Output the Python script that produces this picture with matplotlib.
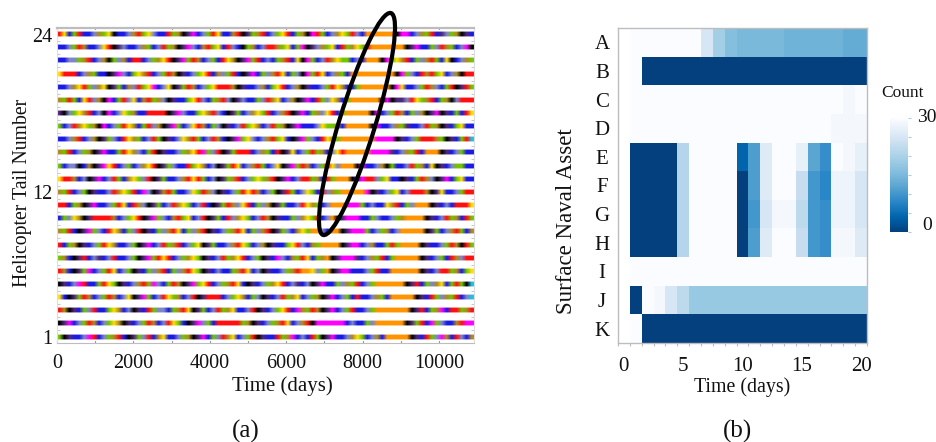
import numpy as np
import matplotlib
matplotlib.use("Agg")
import matplotlib.pyplot as plt
from matplotlib.colors import LinearSegmentedColormap, to_rgb
from matplotlib.patches import Ellipse

plt.rcParams['font.family'] = ['Liberation Serif', 'DejaVu Serif']

# ---------- panel (a): helicopter state per time block, top row = tail 24 ----------
block_days = 130
palette = dict(r='#ff1010', b='#1a1ae6', k='#000000', o='#ff9400', g='#74c400', y='#ffe000',
               m='#ff00ff', s='#7d86c8', n='#b08a20', p='#50287a', c='#20c0e0')
tail_rows = [
 "rybgrbbsng ykbbsnrgys bbrgnkpmbs grybbnrkpg nrbsgyrbgn kmrgbsnygr sb oooooo km mbsngrbpsg nkpb",
 "bbsgrnbbsy rkpsbbsngb srgnkpmsbn rgybrsbkgn bsrrngybgm kpsngybrgn ygrooooooo kpmbbgsrng bsmk",
 "bbssgnrbsn kgsnbrrbsg nyrkpmgrnb sgbrynkpmg rbsbgnrbyk mgbsrnyggb sboookmgyn rbgsnrgbyk bsng",
 "yrrrbsngbb kpmsbgynrb sgrnkpbsgy rbnsgrbkpm bgsnrybgsk mgrybsngbo oooooooo km gsbrnrgybs nkrr",
 "bbsnyrgsny kpgbnsrgym bsykpgrnbs gyrrrnkpbb snbgyrbsnk pbbsgrynbb g oooooo kmy bbsgrnsbgr kprg",
 "ngrgbyrsnk mbgrsybnrg nskpbbgyrs bgnrskpsbb gsrnybsnkp mbrgsynbgo oooookmkpp srygnrbgnk srrr",
 "pksgynrbsk mbsygnbbrr rrkpmsbbgy nrsbkpgbsn ygrbsnrkpm bgnsyrbgoo oookmbsgrn bgsnkpmkpb gbry",
 "gbsrnygnkm bsgrynbgrs nkpmgbsyrn bgskpbsrgy nbsrgnkpmb bbsyggnboo oookmbbsng pbbsrgnkpb gybb",
 "bbsnrbsnkp gsbryngbsr gkpbsynrgb srnbkpmgys bsnrgybkpm gsbryngooo oooommmmkp bsgrrrngkp bgrc",
 "ngrbsgnkpm bbgrynsbgr kpbbsgnyrm gsrkpgrrrb sngbrkpybs grgnbsyroo ooommmmpbs ngrboookpb sgbb",
 "gbsskbnkpm yrbsgbsnyr kpgsbbrgyn bskpgrybsn rgbsykpmgr nbsgrysooo kmbbsnkgbb srgnbykpbs ggbb",
 "yrrnbskpmb srgbnygsrk pgbbsnryrg bskpgnrbsg ygnrkpmbsr rgnbrgoook pmrrsgybbk pbgrnskpmb gybb",
 "ngrbsgkpbb srnygrbmsk pnrgbbsygr nskpbsgryr nbsgkprgbs ygbrsngooo oomkpbsgyb srrrnkpybb sgrr",
 "rrbgnkpmbb sgrybrnskp gbsrnygbsr bkpgrnsyrb gsnkpgbbsr yngbsooomm mgbsbbynrb gsoookpbsb rrry",
 "bgsynkprrr rnbsgyrkpm gsbnrgybsr kpgbrsnygb srnkpbbgsn ygrbsokpmm mbbgsbbsgn ooookpbsrg nbrg",
 "ngrbkpmgsb rynbgsrkpb gsnrybgsnr kpbsgnrybg snrkpgsbny goosbookpm mmgbsgnbso ooookpgbsn rgbn",
 "rbgnkpbsgr ynbbsgkpmb srgnrbsgyk pgbbsnrygb snkpbbgyrs bng oooo kpm mbsnbbgrgo oookpbbsgr nkrg",
 "gnbkprbspb srbbsgkpmg ryrbsgnygk pbsrgnyrbs gkpbmsbngr ybgnokpmmm pbsngrbgoo oookpbsgbr nsrr",
 "rnbkpgmbsg rybsgkpbgs nrbgsnrygk pbsbbgnryb skpbbsgnro oysgokpmmb bbsgrbbooo oookpbsrrg nbgy",
 "kpbsmrbbgr ygkpbsnrgm sbgrnkpmgy rbsgnrybkp bsgnyrbspb skpmbbgsng rbsgoooooo kprbgsnybg rgkc",
 "ybkpgrnbsg rnbsykpmgb srygnbsrkp rrrbsgynbg skpbsrgnyb sgnkpmbsgb rbbsngbooo ookpbrgsng rbsc",
 "rnkpbgsrbb gynbskpbrg ssbgnrykpg bsrgnybbsr kpbsgyrbmn grnkpmbsgr bbsgoooooo okprbgnmbr rgnr",
 "kpmbsgrnbs gynkpbsgrn bsrygbkpms gbrrrrrgnk pbsgnrybsn rkmmmmmmbs bbgsoooooo kpgrbmgsbb nrmm",
 "gkpbbsmrbs gnrbkpgsrb nybbsgnkpm bgsrnybsgr kpbbrgnmbs brgkpmbbsn ygbsnboooo okpbrgsmnb rsbn",
]
tail_numbers = list(range(24, 0, -1))
x_ticks_a = [0, 2000, 4000, 6000, 8000, 10000]
y_ticks_a = [1, 12, 24]

# ---------- panel (b): count per asset and day ----------
assets = list("ABCDEFGHIJK")
days_b = list(range(21))
N = np.nan
counts = [
 [N, 30,30,30,30,30,30,25,19,16,15,15,15,15,14,14,14,14,14,13,13],
 [N, 30, 0, 0, 0, 0, 0, 0, 0, 0, 0, 0, 0, 0, 0, 0, 0, 0, 0, 0, 0],
 [N, 30,30,30,30,30,30,30,30,30,30,30,30,30,30,30,30,30,30,29,30],
 [N, 30,30,30,30,30,30,30,30,30,30,30,30,30,30,30,30,30,29,29,29],
 [N,  0, 0, 0, 0,21,30,30,30,30, 4,11,26,30,30,27,12, 9,30,29,27],
 [N,  0, 0, 0, 0,21,30,30,30,30, 0,11,26,30,30,23,10, 8,28,28,25],
 [N,  0, 0, 0, 0,21,30,30,30,30, 0,10,25,29,29,22,10, 9,28,28,25],
 [N,  0, 0, 0, 0,21,30,30,30,30, 0,11,26,30,30,23,10, 9,29,29,26],
 [N, 30,30,30,30,30,30,30,30,30,30,30,30,30,30,30,30,30,30,30,30],
 [N,  0,30,29,25,22,18,18,18,18,18,18,18,18,18,18,18,18,18,18,18],
 [N, 30, 0, 0, 0, 0, 0, 0, 0, 0, 0, 0, 0, 0, 0, 0, 0, 0, 0, 0, 0],
]
count_stops = [0, 4, 8, 12, 16, 20, 24, 28, 30]
count_colors = ['#03407d', '#0065ad', '#2a87c7', '#5aa6d1', '#85bfde', '#abd2e8', '#cfe1f1', '#edf4fb', '#fbfcff']

W, H = 936, 442
fig = plt.figure(figsize=(W / 100, H / 100), dpi=100)


def rect(l, t, r, b):
    return [l / W, 1 - b / H, (r - l) / W, (b - t) / H]


def label(x, y, s, size=14, **kw):
    kw.setdefault('ha', 'center')
    fig.text(x / W, 1 - y / H, s, fontsize=size, va='center', color='#111111', **kw)


GREY = '#bdbdbd'

# ----- (a)
axa = fig.add_axes(rect(57, 28, 474, 343))
xmax = 10916
for tail, row in zip(tail_numbers, tail_rows):
    cells = row.replace(' ', '')
    rgb = np.array([to_rgb(palette[c]) for c in cells])
    white = np.ones_like(rgb)
    img = np.stack([white, rgb, rgb, rgb, white])
    axa.imshow(img, extent=(0, len(cells) * block_days, tail - 0.27, tail + 0.27),
               interpolation='bilinear', aspect='auto', origin='lower', zorder=2)
axa.set_xlim(0, xmax)
axa.set_ylim(0.545, 24.43)
axa.set_xticks(x_ticks_a)
axa.set_xticks(np.arange(1000, 11000, 2000), minor=True)
axa.set_yticks(y_ticks_a)
axa.set_yticks(np.arange(1, 24.6, 0.5), minor=True)
axa.tick_params(axis='x', which='both', direction='in', length=3, width=0.8, color='#999999',
                top=True, labelsize=14.5, pad=8, labelcolor='#111111')
axa.tick_params(axis='y', which='both', direction='in', length=2.5, width=0.6, color='#bbbbbb',
                right=True, labelsize=14.5, pad=3, labelcolor='#111111')
for sp in axa.spines.values():
    sp.set_color('#dddddd')
    sp.set_linewidth(0.8)
axa.spines['top'].set_color(GREY)
axa.spines['top'].set_linewidth(1.6)
axa.spines['bottom'].set_color(GREY)
label(282, 386, 'Time (days)', 15)
label(23, 193, 'Helicopter Tail Number', 14.2, rotation=90)
label(246, 431, '(a)', 18)

fig.add_artist(Ellipse((357 / 100, (H - 124) / 100), width=2 * 116 / 100, height=2 * 18 / 100, angle=73,
                       transform=fig.dpi_scale_trans, fill=False, edgecolor='black', linewidth=3, zorder=10))

# ----- (b)
axb = fig.add_axes(rect(618, 28, 867, 343))
cmap = LinearSegmentedColormap.from_list('count', [(s / 30, c) for s, c in zip(count_stops, count_colors)])
cmap.set_bad('white')
mesh = axb.pcolormesh(np.arange(-0.5, 21), np.arange(-0.5, 11), np.ma.masked_invalid(np.array(counts)),
                      cmap=cmap, vmin=0, vmax=30)
axb.set_xlim(-0.5, 20.4)
axb.set_ylim(10.5, -0.5)
axb.set_xticks([0, 5, 10, 15, 20])
axb.set_xticks(np.arange(-0.5, 21), minor=True)
axb.set_yticks(range(len(assets)))
axb.set_yticklabels(assets)
axb.tick_params(axis='x', which='major', length=0, labelsize=15, pad=10, labelcolor='#111111')
axb.tick_params(axis='x', which='minor', length=2, width=0.8, color=GREY)
axb.tick_params(axis='y', length=0, labelsize=15, pad=11.5, labelcolor='#111111')
for t in axb.get_yticklabels():
    t.set_ha('center')
for sp in axb.spines.values():
    sp.set_color(GREY)
    sp.set_linewidth(1.0)
label(742, 387, 'Time (days)', 14.3)
label(567, 221, 'Surface Naval Asset', 16.5, rotation=90)
label(738, 431, '(b)', 18)

# ----- colour bar
cax = fig.add_axes(rect(890, 118, 908, 232))
cb = fig.colorbar(mesh, cax=cax)
cb.outline.set_visible(False)
cb.set_ticks([0, 5, 10, 15, 20, 25, 30])
cb.set_ticklabels([])
cax.tick_params(length=2.5, width=0.8, color='#a6cde8')
label(903, 93, 'Count', 12.5)
label(927, 118, '30', 14)
label(927, 225, '0', 14)

fig.savefig('out.png', dpi=100)
